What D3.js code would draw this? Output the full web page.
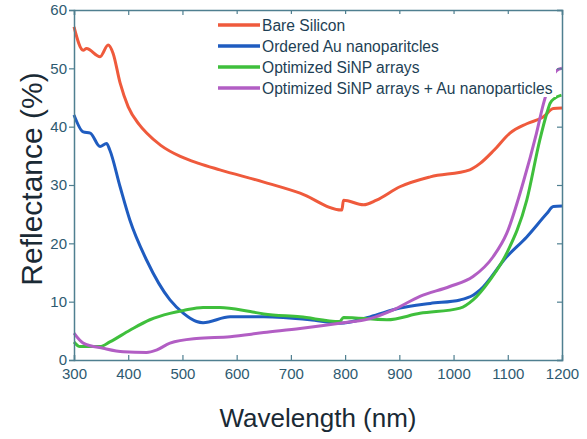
<!DOCTYPE html>
<html>
<head>
  <meta charset="utf-8">
  <script src="https://d3js.org/d3.v7.min.js"></script>
  <style>
    body { margin: 0; background: #ffffff; }
    svg { display: block; font-family: Arial, "Liberation Sans", sans-serif; }
  </style>
</head>
<body>
<svg width="587" height="439"></svg>
<script>
  // wavelength samples (nm) and reflectance (%) for each curve
  var bareWl = [300, 317, 323, 348, 363, 372, 385, 400, 420, 434, 460, 496, 530, 569, 650, 717, 794, 797, 834, 858, 901, 957, 1030, 1049, 1075, 1104, 1135, 1166, 1184, 1200];
  var bareR  = [57.1, 53.1, 53.4, 52.0, 54.0, 52.6, 47.5, 43.4, 40.4, 38.9, 36.8, 34.9, 33.7, 32.6, 30.5, 28.6, 25.7, 27.4, 26.6, 27.4, 29.7, 31.4, 32.6, 33.7, 36.0, 38.9, 40.5, 41.7, 43.1, 43.2];

  var auWl = [300, 317, 330, 348, 360, 366, 385, 403, 434, 477, 502, 526, 538, 588, 650, 735, 790, 846, 901, 957, 1012, 1036, 1049, 1098, 1135, 1172, 1184, 1200];
  var auR  = [42.0, 39.1, 38.9, 36.6, 37.1, 36.0, 29.7, 24.0, 17.1, 10.3, 8.0, 6.6, 6.4, 7.4, 7.4, 6.9, 6.3, 7.4, 8.9, 9.7, 10.3, 11.1, 12.0, 17.7, 21.1, 25.1, 26.3, 26.4];

  var sinpWl = [300, 311, 348, 366, 403, 440, 477, 502, 538, 569, 625, 650, 717, 790, 797, 877, 938, 1012, 1036, 1067, 1098, 1135, 1159, 1172, 1178, 1187, 1199];
  var sinpR  = [3.1, 2.3, 2.3, 3.1, 5.1, 6.9, 8.0, 8.5, 9.0, 9.0, 8.3, 7.9, 7.4, 6.6, 7.3, 6.9, 8.0, 8.9, 10.3, 13.7, 18.3, 27.4, 37.7, 42.3, 44.0, 44.9, 45.4];

  var sinpAuWl = [300, 317, 354, 391, 434, 452, 477, 526, 588, 650, 717, 790, 846, 889, 938, 993, 1036, 1073, 1098, 1128, 1153, 1166, 1190, 1200];
  var sinpAuR  = [4.6, 2.9, 2.0, 1.4, 1.3, 1.7, 2.9, 3.7, 4.0, 4.7, 5.4, 6.3, 7.1, 8.6, 10.9, 12.6, 14.3, 17.7, 21.7, 30.3, 38.9, 44.0, 49.6, 50.0];

  var seriesNames = ["Bare Silicon", "Ordered Au nanoparitcles", "Optimized SiNP arrays", "Optimized SiNP arrays + Au nanoparticles"];
  var seriesColors = ["#ef5a3c", "#1f5cc0", "#3fbf3c", "#b25ec4"];

  var xTicks = [300, 400, 500, 600, 700, 800, 900, 1000, 1100, 1200];
  var yTicks = [0, 10, 20, 30, 40, 50, 60];

  var series = [
    { wl: bareWl, r: bareR },
    { wl: auWl, r: auR },
    { wl: sinpWl, r: sinpR },
    { wl: sinpAuWl, r: sinpAuR }
  ];

  var svg = d3.select("svg");
  var plotL = 74, plotR = 562, plotT = 10, plotB = 360;
  var axisColor = "#4f7f90", tickText = "#2e5a70";

  var x = d3.scaleLinear().domain([300, 1200]).range([plotL, plotR]);
  var y = d3.scaleLinear().domain([0, 60]).range([plotB, plotT]);

  // curves
  var line = d3.line()
    .curve(d3.curveMonotoneX)
    .x(function(d) { return x(d[0]); })
    .y(function(d) { return y(d[1]); });

  series.forEach(function(s, i) {
    svg.append("path")
      .datum(d3.zip(s.wl, s.r))
      .attr("d", line)
      .attr("fill", "none")
      .attr("stroke", seriesColors[i])
      .attr("stroke-width", 3)
      .attr("stroke-linejoin", "round");
  });

  // axes (box)
  var xBottom = svg.append("g").attr("transform", "translate(0," + plotB + ")")
    .call(d3.axisBottom(x).tickValues(xTicks).tickSize(-5).tickPadding(8).tickFormat(d3.format("d")));
  var xTop = svg.append("g").attr("transform", "translate(0," + plotT + ")")
    .call(d3.axisTop(x).tickValues(xTicks).tickSize(-5).tickFormat(""));
  var yLeft = svg.append("g").attr("transform", "translate(" + plotL + ",0)")
    .call(d3.axisLeft(y).tickValues(yTicks).tickSize(5).tickPadding(2));
  var yRight = svg.append("g").attr("transform", "translate(" + plotR + ",0)")
    .call(d3.axisRight(y).tickValues(yTicks).tickSize(-5).tickFormat(""));

  [xBottom, xTop, yLeft, yRight].forEach(function(g) {
    g.select(".domain").attr("stroke", axisColor).attr("stroke-width", 1.5);
    g.selectAll(".tick line").attr("stroke", axisColor).attr("stroke-width", 1.2);
    g.selectAll(".tick text").attr("fill", tickText).style("font-size", "15px")
      .style("font-family", "Arial, 'Liberation Sans', sans-serif");
  });

  // legend
  var legend = svg.append("g");
  legend.append("rect")
    .attr("x", 212).attr("y", 14).attr("width", 344).attr("height", 83)
    .attr("fill", "#ffffff");
  seriesNames.forEach(function(name, i) {
    var ly = 25 + i * 21;
    legend.append("line")
      .attr("x1", 218).attr("x2", 260).attr("y1", ly).attr("y2", ly)
      .attr("stroke", seriesColors[i]).attr("stroke-width", 3.5);
    legend.append("text")
      .attr("x", 262).attr("y", ly + 5.5)
      .attr("fill", "#1e3f55")
      .style("font-size", "15.6px")
      .text(name);
  });

  // axis titles
  svg.append("text")
    .attr("x", (plotL + plotR) / 2).attr("y", 427)
    .attr("text-anchor", "middle")
    .attr("fill", "#1a2a35")
    .style("font-size", "26px")
    .text("Wavelength (nm)");

  svg.append("text")
    .attr("transform", "translate(42," + 179 + ") rotate(-90)")
    .attr("text-anchor", "middle")
    .attr("fill", "#1a2a35")
    .style("font-size", "30px")
    .text("Reflectance (%)");
</script>
</body>
</html>
